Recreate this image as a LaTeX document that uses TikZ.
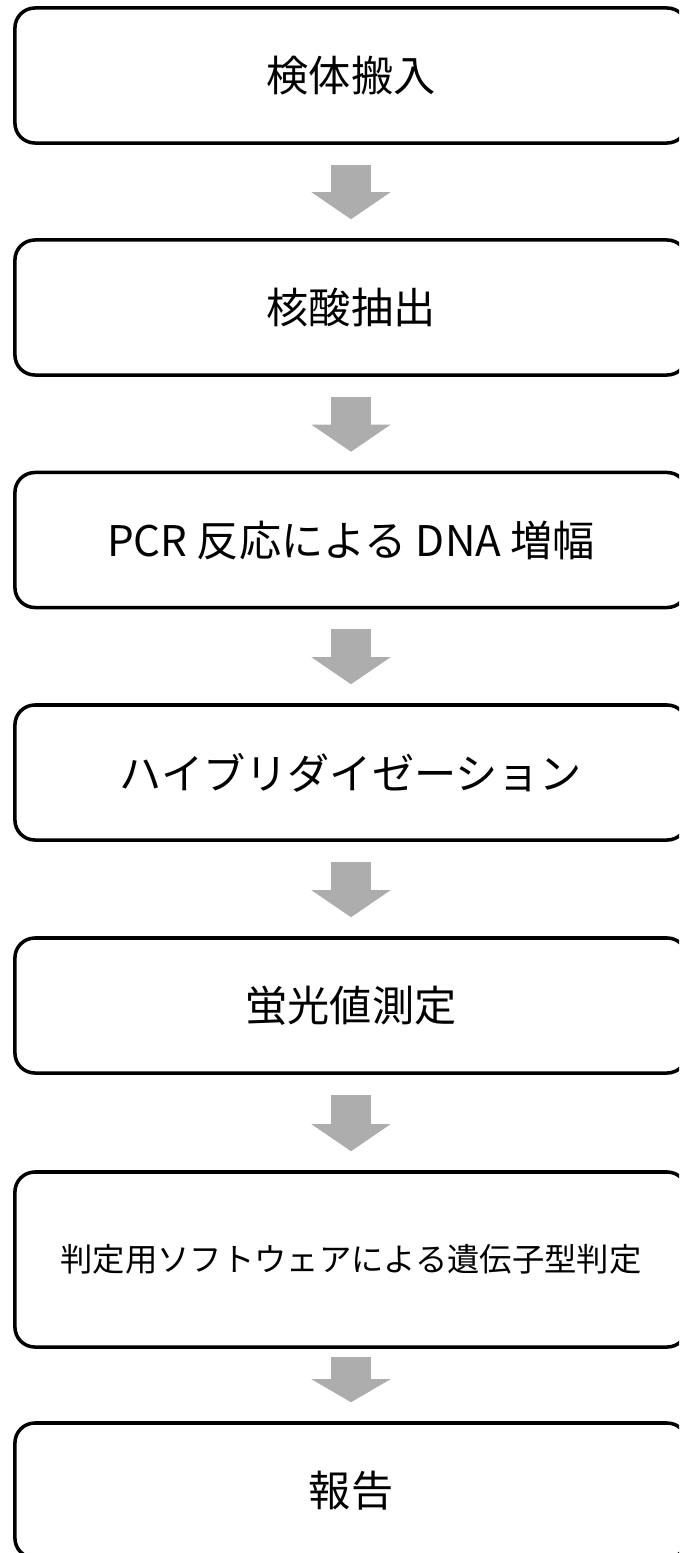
\documentclass[tikz,border=0pt]{standalone}
\usepackage{fontspec}
\setmainfont{Noto Sans CJK JP}
\usetikzlibrary{arrows.meta}
\definecolor{flechagris}{RGB}{173,173,173}

\begin{document}
\begin{tikzpicture}[x=0.025cm, y=-0.025cm]
\clip (0,0) rectangle (679,1553);

% Cajas
\begin{scope}[
		every node/.style = {shape = rectangle, rounded corners = .5cm,
		draw = black, line width = 2.5pt, minimum width = 16.8cm,
		minimum height = 3.375cm, font = \fontsize{30pt}{36pt}\selectfont}]
	\node (A) at (351,75.5) {検体搬入};
	\node (B) at (351,307.5) {核酸抽出};
	\node (C) at (351,540) {PCR 反応による DNA 増幅};
	\node (D) at (351,772.5) {ハイブリダイゼーション};
	\node (E) at (351,1005.5) {蛍光値測定};
	\node[minimum height = 4.375cm, font = \fontsize{23pt}{28pt}\selectfont]
		(F) at (351,1259.5) {判定用ソフトウェアによる遺伝子型判定};
	\node (G) at (351,1490.5) {報告};
\end{scope}

% Flechas
\begin{scope}[
		every edge/.style = {draw = flechagris, line width = 1cm,
		-{Triangle[length = .675cm, width = 1.975cm, line width = 0pt]},
		shorten < = .5cm, shorten > = .475cm}]
	\path (A) edge (B);
	\path (B) edge (C);
	\path (C) edge (D);
	\path (D) edge (E);
	\path (E) edge (F);
	\path (F) edge[shorten < = .2cm,
		-{Triangle[length = .575cm, width = 1.975cm, line width = 0pt]}] (G);
\end{scope}
\end{tikzpicture}
\end{document}
